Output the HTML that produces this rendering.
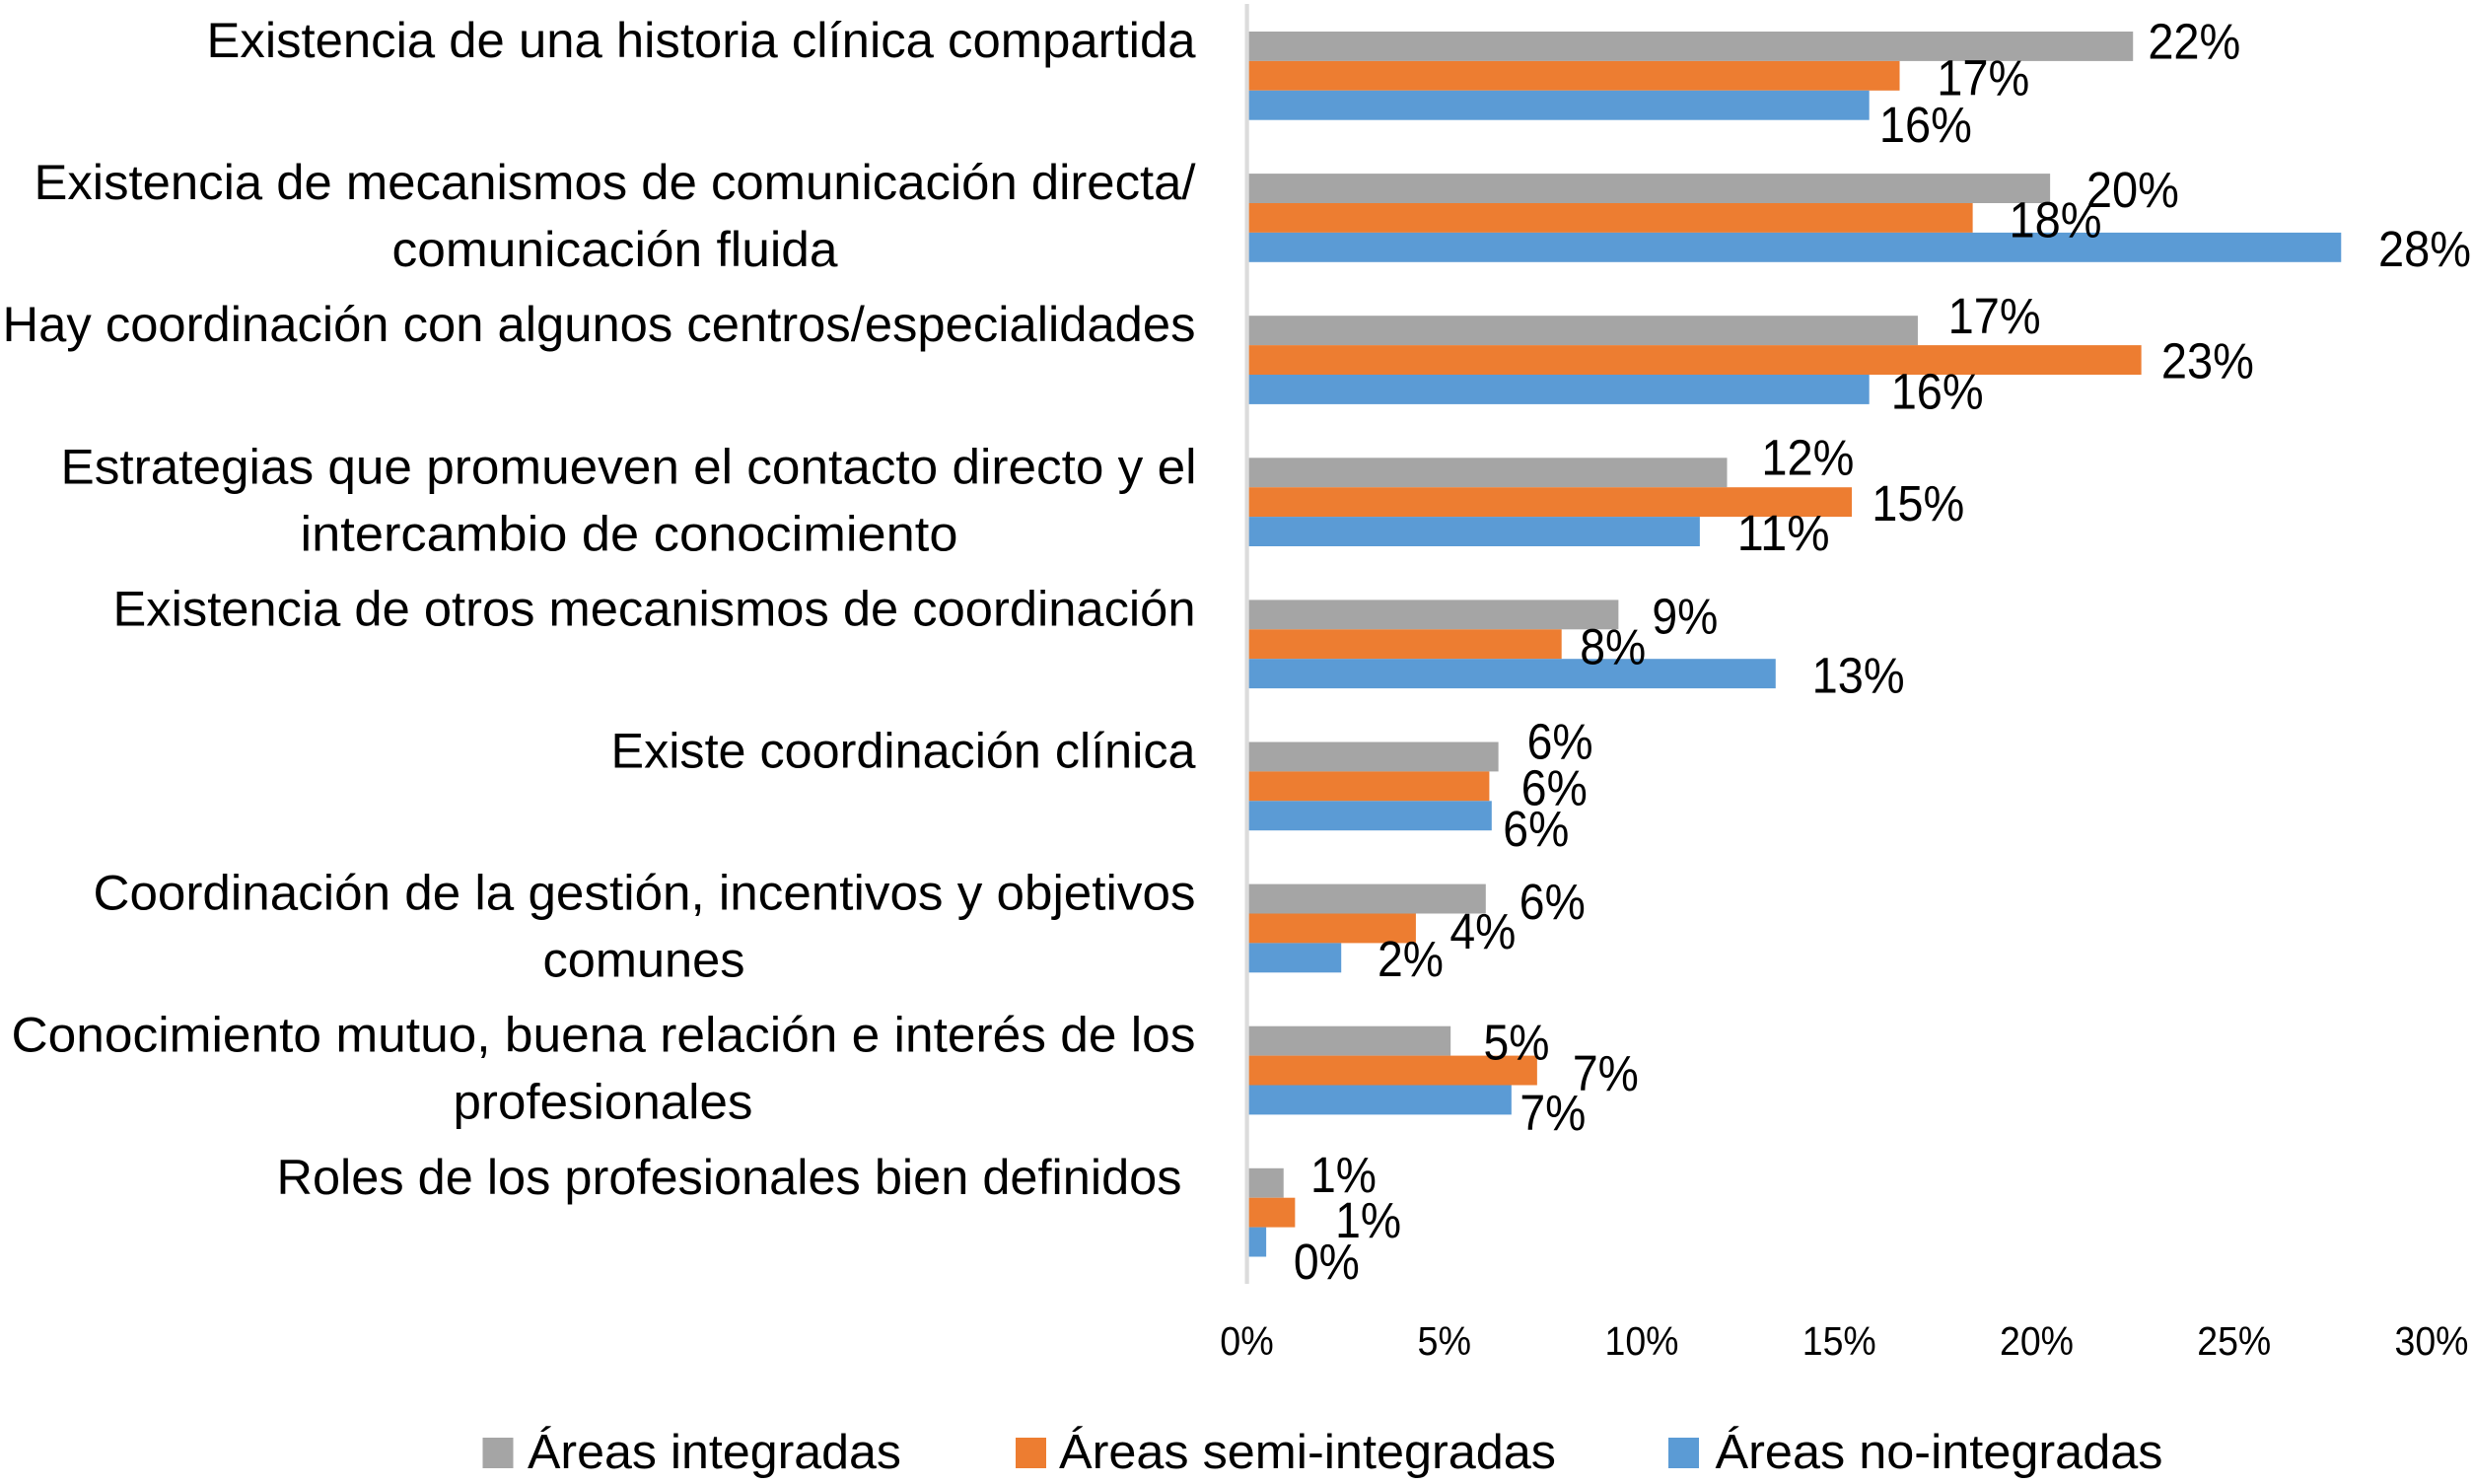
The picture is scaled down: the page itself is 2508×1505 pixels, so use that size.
<!DOCTYPE html>
<html lang="es">
<head>
<meta charset="utf-8">
<title>Mecanismos de coordinación por tipo de área</title>
<style>
  html, body { margin: 0; padding: 0; background: #ffffff; }
  #chart { display: block; width: 2508px; height: 1505px; font-family: "Liberation Sans", sans-serif; }
</style>
</head>
<body>
<svg id="chart" xmlns="http://www.w3.org/2000/svg" width="2508" height="1505" viewBox="0 0 2508 1505">
  <rect x="0" y="0" width="2508" height="1505" fill="#ffffff"/>
  <g id="category-labels"></g>
  <g id="bars"></g>
  <rect id="axis-line" fill="#dcdcdc"/>
  <g id="value-labels"></g>
  <g id="x-ticks"></g>
  <g font-size="49" fill="#000000">
    <g>
      <rect x="489.5" y="1458" width="31" height="31" fill="#a5a5a5"/>
      <text x="535" y="1489" textLength="379" lengthAdjust="spacingAndGlyphs">Áreas integradas</text>
    </g>
    <g>
      <rect x="1030" y="1458" width="31" height="31" fill="#ed7d31"/>
      <text x="1074" y="1489" textLength="504" lengthAdjust="spacingAndGlyphs">Áreas semi-integradas</text>
    </g>
    <g>
      <rect x="1692" y="1458" width="31" height="31" fill="#5b9bd5"/>
      <text x="1739.5" y="1489" textLength="454" lengthAdjust="spacingAndGlyphs">Áreas no-integradas</text>
    </g>
  </g>
</svg>
<script>
// ---- data ----
const categories = [
  ["Existencia de una historia clínica compartida"],
  ["Existencia de mecanismos de comunicación directa/", "comunicación fluida"],
  ["Hay coordinación con algunos centros/especialidades"],
  ["Estrategias que promueven el contacto directo y el", "intercambio de conocimiento"],
  ["Existencia de otros mecanismos de coordinación"],
  ["Existe coordinación clínica"],
  ["Coordinación de la gestión, incentivos y objetivos", "comunes"],
  ["Conocimiento mutuo, buena relación e interés de los", "profesionales"],
  ["Roles de los profesionales bien definidos"]
];
const integradas = [22.44, 20.34, 16.99, 12.16, 9.41, 6.37, 6.05, 5.16, 0.93];
const semiIntegradas = [16.53, 18.38, 22.65, 15.32, 7.97, 6.14, 4.28, 7.35, 1.22];
const noIntegradas = [15.76, 27.71, 15.76, 11.47, 13.39, 6.2, 2.39, 6.7, 0.49];
const integradasLabels = ["22%", "20%", "17%", "12%", "9%", "6%", "6%", "5%", "1%"];
const semiIntegradasLabels = ["17%", "18%", "23%", "15%", "8%", "6%", "4%", "7%", "1%"];
const noIntegradasLabels = ["16%", "28%", "16%", "11%", "13%", "6%", "2%", "7%", "0%"];
const tickValues = [0, 5, 10, 15, 20, 25, 30];
const tickLabels = ["0%", "5%", "10%", "15%", "20%", "25%", "30%"];

// ---- layout (not data): hand-placed label offsets and text fitting, as in the original chart ----
const labelOffsetX = {
  integradas: [15.1, 36.8, 30.7, 34.9, 34, 29, 34, 33.3, 27.3],
  semi: [37.7, 36.9, 20.2, 20.2, 18.5, 32.4, 34.4, 36, 40.8],
  no: [10.2, 37.7, 22, 37.7, 36.9, 11.5, 36.8, 8.5, 27.7]
};
const labelOffsetY = {
  integradas: [12.7, 19, 3, 2, 19, 2, 20.5, 18.8, 9.2],
  semi: [19.5, 19.6, 18.4, 19, 20, 19, 20.5, 20.4, 25.3],
  no: [37, 19, 19.6, 19, 19.5, 30.7, 18.5, 30.5, 37.4]
};
const categoryTextFit = [
  [[209.5, 1003]],
  [[34.5, 1178], [397.5, 452]],
  [[2.5, 1210]],
  [[61.5, 1152], [304.5, 667]],
  [[114.5, 1098]],
  [[619.5, 593]],
  [[94.5, 1118], [550.5, 205]],
  [[11.5, 1201], [459.5, 304]],
  [[280.5, 918]]
];
const valueLabelWidth = { 2: 67, 3: 94 };
const tickLabelWidth = { 2: 54.5, 3: 75 };

// ---- scales ----
const X0 = 1264.5, PX_PER_UNIT = 40.05;
const BAND_TOP = 32, BAND_STEP = 144.1, BAR_H = 29.9;
const xScale = v => X0 + v * PX_PER_UNIT;
const bandY = i => BAND_TOP + i * BAND_STEP;

const NS = "http://www.w3.org/2000/svg";
const make = (tag, parent) => parent.appendChild(document.createElementNS(NS, tag));

const seriesList = [
  { key: "integradas", values: integradas, labels: integradasLabels, color: "#a5a5a5" },
  { key: "semi", values: semiIntegradas, labels: semiIntegradasLabels, color: "#ed7d31" },
  { key: "no", values: noIntegradas, labels: noIntegradasLabels, color: "#5b9bd5" }
];

// axis line
const axisLine = document.getElementById("axis-line");
axisLine.setAttribute("x", 1262.5);
axisLine.setAttribute("y", 4);
axisLine.setAttribute("width", 4.2);
axisLine.setAttribute("height", 1298);

// category labels
const catGroup = document.getElementById("category-labels");
categories.forEach((lines, i) => {
  lines.forEach((line, j) => {
    const t = make("text", catGroup);
    
    
    t.setAttribute("x", categoryTextFit[i][j][0]);
    t.setAttribute("y", bandY(i) + 26 + j * 68);
    t.setAttribute("font-size", 50);
    t.setAttribute("fill", "#000000");
    t.setAttribute("textLength", categoryTextFit[i][j][1]);
    t.setAttribute("lengthAdjust", "spacingAndGlyphs");
    t.textContent = line;
  });
});

// bars
const barGroup = document.getElementById("bars");
seriesList.forEach((s, k) => {
  s.values.forEach((v, i) => {
    const r = make("rect", barGroup);
    
    
    r.setAttribute("x", X0);
    r.setAttribute("y", bandY(i) + k * BAR_H);
    r.setAttribute("width", xScale(v) - X0);
    r.setAttribute("height", BAR_H);
    r.setAttribute("fill", s.color);
  });
});

// value labels
const valGroup = document.getElementById("value-labels");
seriesList.forEach((s, k) => {
  s.values.forEach((v, i) => {
    const t = make("text", valGroup);
    
    
    t.setAttribute("x", xScale(v) + labelOffsetX[s.key][i]);
    t.setAttribute("y", bandY(i) + (k + 0.5) * BAR_H + labelOffsetY[s.key][i]);
    t.setAttribute("font-size", 51);
    t.setAttribute("fill", "#000000");
    t.setAttribute("textLength", valueLabelWidth[s.labels[i].length]);
    t.setAttribute("lengthAdjust", "spacingAndGlyphs");
    t.textContent = s.labels[i];
  });
});

// x ticks
const tickGroup = document.getElementById("x-ticks");
tickValues.forEach((v, i) => {
  const t = make("text", tickGroup);
  
  
  t.setAttribute("x", xScale(v));
  t.setAttribute("y", 1374);
  t.setAttribute("font-size", 41);
  t.setAttribute("fill", "#000000");
  t.setAttribute("text-anchor", "middle");
  t.setAttribute("textLength", tickLabelWidth[tickLabels[i].length]);
  t.setAttribute("lengthAdjust", "spacingAndGlyphs");
  t.textContent = tickLabels[i];
});
</script>
</body>
</html>
